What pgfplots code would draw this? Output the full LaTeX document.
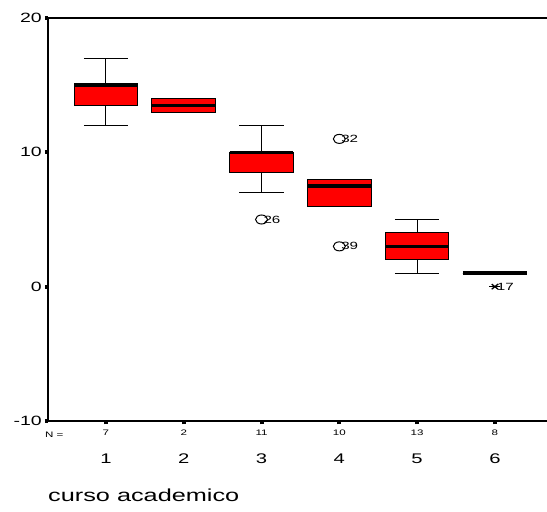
\documentclass[border=0pt]{standalone}
\usepackage{pgfplots}
\pgfplotsset{compat=1.18}
\usepgfplotslibrary{statistics}
\usepackage{graphicx}
\usepackage{fontspec}
\setmainfont{Liberation Sans}
% wide, SPSS-style lettering
\newcommand{\sx}[1]{\scalebox{1.45}[1]{#1}}
\newcommand{\fs}[1]{\fontsize{#1}{#1}\selectfont}

\begin{document}
\begin{tikzpicture}
\useasboundingbox (-48bp,-91bp) rectangle (499bp,421bp);
\begin{axis}[
  at={(0,0)}, anchor=south west, scale only axis,
  width=499bp, height=403bp,
  xmin=0.255, xmax=6.67, ymin=-10, ymax=20,
  axis x line*=box, axis y line*=left,
  axis line style={line width=1.5bp, black},
  clip=false,
  tick align=outside,
  xtick pos=left, ytick pos=left,
  major tick length=3bp,
  every tick/.style={black, line width=4bp},
  ytick={-10,0,10,20},
  yticklabels={\sx{-10},\sx{0},\sx{10},\sx{20}},
  yticklabel style={font=\fs{13.5}, anchor=east, inner sep=0pt, xshift=-3bp},
  xtick={1,...,6},
  xticklabels={\sx{7},\sx{2},\sx{11},\sx{10},\sx{13},\sx{8}},
  xticklabel style={font=\fs{8}, anchor=north, inner sep=0pt, yshift=-6bp},
  extra x ticks={1,...,6},
  extra x tick labels={\sx{1},\sx{2},\sx{3},\sx{4},\sx{5},\sx{6}},
  extra x tick style={xticklabel style={font=\fs{14}, yshift=-24bp}},
  boxplot/draw direction=y,
  boxplot/box extend=0.82,
  boxplot/whisker extend=0.57,
  boxplot/every box/.style={draw=black, fill=red, line width=1bp},
  boxplot/every whisker/.style={black, line width=1bp},
  boxplot/every median/.style={black, line width=3.5bp},
]
% five-number summaries per course year
\addplot[boxplot prepared={draw position=1, lower whisker=12, lower quartile=13.5,
  median=15, upper quartile=15, upper whisker=17}] coordinates {};
\addplot[boxplot prepared={draw position=2, lower whisker=13, lower quartile=13,
  median=13.5, upper quartile=14, upper whisker=14}] coordinates {};
\addplot[boxplot prepared={draw position=3, lower whisker=7, lower quartile=8.5,
  median=10, upper quartile=10, upper whisker=12}] coordinates {};
\addplot[boxplot prepared={draw position=4, lower whisker=6, lower quartile=6,
  median=7.5, upper quartile=8, upper whisker=8}] coordinates {};
\addplot[boxplot prepared={draw position=5, lower whisker=1, lower quartile=2,
  median=3, upper quartile=4, upper whisker=5}] coordinates {};
\addplot[boxplot prepared={draw position=6, lower whisker=1, lower quartile=1,
  median=1, upper quartile=1, upper whisker=1}] coordinates {};

% outliers
\addplot[only marks, mark=o, mark size=4.5bp,
  mark options={xscale=1.33, line width=1bp, black},
  point meta=explicit symbolic,
  nodes near coords={\sx{\pgfplotspointmeta}},
  nodes near coords align=horizontal,
  nodes near coords style={font=\fs{10.5}, anchor=west, inner sep=0pt, xshift=1.5bp}]
  coordinates {(3,5) [26] (4,11) [32] (4,3) [39]};

% extreme value: cross with a bar through it
\addplot[only marks, mark=x, mark size=4.5bp,
  mark options={yscale=0.8, line width=1.3bp, black}]
  coordinates {(6,0)};
\addplot[only marks, mark=-, mark size=5.5bp,
  mark options={line width=1bp, black},
  point meta=explicit symbolic,
  nodes near coords={\sx{\pgfplotspointmeta}},
  nodes near coords align=horizontal,
  nodes near coords style={font=\fs{10.5}, anchor=west, inner sep=0pt, xshift=1.5bp}]
  coordinates {(6,0) [17]};

\node[font=\fs{8}, anchor=west, inner sep=0pt] at ([xshift=-3bp, yshift=-14bp]rel axis cs:0,0) {\sx{N =}};
\node[font=\fs{17.5}, anchor=west, inner sep=0pt] at ([yshift=-74bp]rel axis cs:0,0) {\sx{curso academico}};
\end{axis}
\end{tikzpicture}
\end{document}
